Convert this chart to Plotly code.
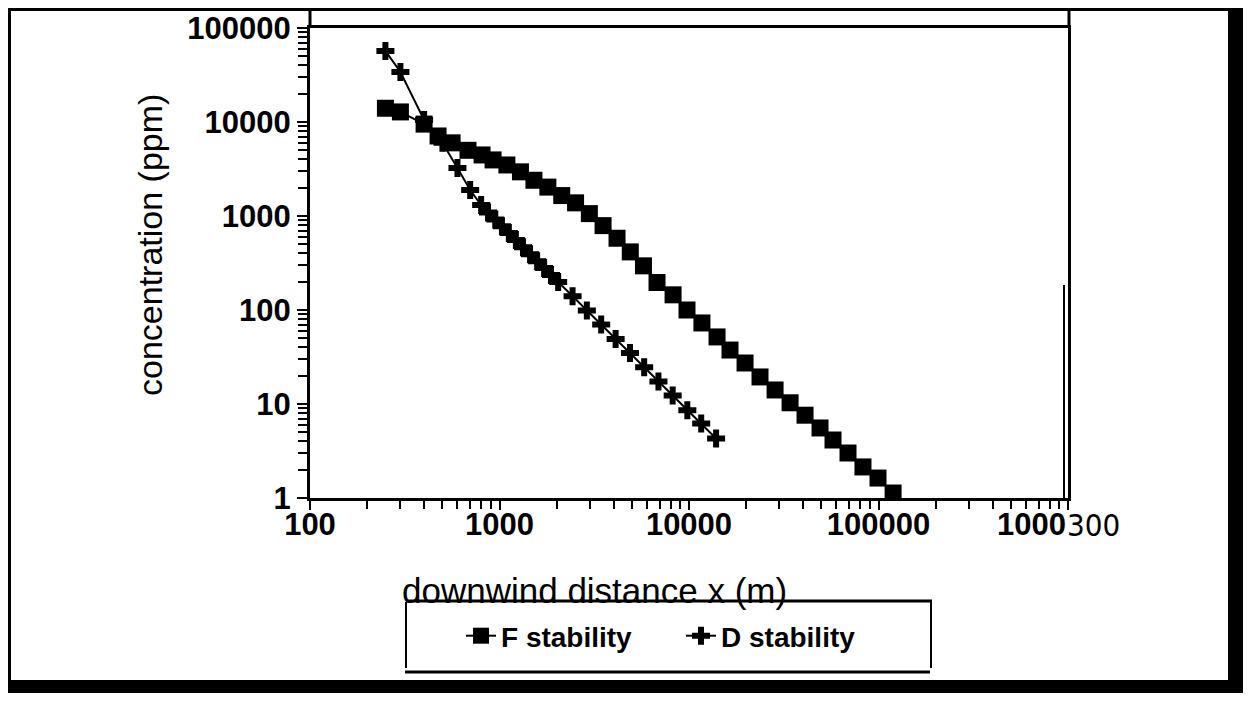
import plotly.graph_objects as go

# ---------------- data ----------------
f_distance = [250, 300, 400, 474, 562, 682, 809, 925,
              1094, 1290, 1520, 1800, 2130, 2520, 2980, 3520, 4170, 4900, 5750, 6780,
              8240, 9760, 11700, 14060, 16460, 19760, 23700, 28460, 34150, 40960,
              49140, 57540, 69040, 82800, 99400, 119400]
f_conc = [14000, 12800, 9500, 7100, 6000, 5000, 4460, 3950,
          3490, 2950, 2400, 2030, 1650, 1380, 1060, 790, 580, 415, 295, 196,
          145, 100, 72.8, 51.7, 37.5, 27.3, 19.4, 14.1, 10.3, 7.6,
          5.56, 4.14, 3.01, 2.14, 1.63, 1.13]

d_distance = [250, 300, 400, 500, 600, 700, 800,
              870, 950, 1030, 1120, 1220, 1330, 1450, 1580, 1720, 1870, 2040,
              2430, 2890, 3440, 4100, 4880, 5800, 6900, 8200, 9800, 11600, 13900]
d_conc = [57000, 34000, 10500, 6000, 3240, 1890, 1310,
          1090, 920, 780, 660, 555, 466, 392, 331, 279, 236, 199,
          140, 99, 70, 49, 34.8, 24.6, 17.4, 12.3, 8.6, 6.2, 4.3]

x_tickvals = [100, 1000, 10000, 100000, 1000000]
x_ticktext = ["100", "1000", "10000", "100000", ""]
y_tickvals = [1, 10, 100, 1000, 10000, 100000]
y_ticktext = ["1", "10", "100", "1000", "10000", "100000"]

series_names = ["F stability", "D stability"]
x_title = "downwind distance x (m)"
y_title = "concentration (ppm)"

# ---------------- layout geometry (screen pixels; page body has an 8px margin) ----------------
PAGE_W, PAGE_H = 1251, 701
OFF = 8
W, H = PAGE_W - 2 * OFF, PAGE_H - 2 * OFF   # fits the page without scrollbars
L, R, T, B = 310, 1068, 28, 498            # plot area on screen
FIG_R, FIG_B = OFF + W, OFF + H            # right / bottom edge of the figure on screen


def px_x(p):
    return (p - L) / (R - L)


def px_y(p):
    return (B - p) / (B - T)


minor_x = [m * 10 ** k for k in range(2, 6) for m in range(2, 10)]
minor_y = [m * 10 ** k for k in range(0, 5) for m in range(2, 10)]

SANS = "Liberation Sans, Arial, sans-serif"
TICK_FONT = dict(family=SANS, size=31, color="black", weight="bold")

fig = go.Figure()
fig.add_trace(go.Scatter(
    x=f_distance, y=f_conc, name=series_names[0], mode="lines+markers",
    line=dict(color="black", width=2),
    marker=dict(symbol="square", size=17, color="black"),
))
fig.add_trace(go.Scatter(
    x=d_distance, y=d_conc, name=series_names[1], mode="lines+markers",
    line=dict(color="black", width=2),
    marker=dict(symbol="cross", size=15, color="black"),
))

axis_common = dict(
    type="log", showgrid=False, zeroline=False,
    showline=True, linecolor="black", linewidth=3, mirror=True,
    ticks="outside", tickwidth=2, tickcolor="black",
    tickfont=TICK_FONT, tickmode="array",
)

fig.update_xaxes(
    **axis_common, range=[2, 6], ticklen=9, ticklabelstandoff=-12,
    tickvals=x_tickvals, ticktext=x_ticktext,
    minor=dict(tickmode="array", tickvals=minor_x, ticks="outside", ticklen=8,
               tickwidth=2, tickcolor="black", showgrid=False),
)
fig.update_yaxes(
    **axis_common, range=[0, 5], ticklen=10,
    tickvals=y_tickvals, ticktext=y_ticktext,
    minor=dict(tickmode="array", tickvals=minor_y, ticks="outside", ticklen=9,
               tickwidth=2, tickcolor="black", showgrid=False),
)

# scanned frame decorations
shapes = []


def hline(y, x0, x1, w=3):
    shapes.append(dict(type="line", xref="paper", yref="paper",
                       x0=px_x(x0), x1=px_x(x1), y0=px_y(y), y1=px_y(y),
                       line=dict(color="black", width=w)))


def vline(x, y0, y1, w=3):
    shapes.append(dict(type="line", xref="paper", yref="paper",
                       x0=px_x(x), x1=px_x(x), y0=px_y(y0), y1=px_y(y1),
                       line=dict(color="black", width=w)))


def rect(x0, y0, x1, y1):
    shapes.append(dict(type="rect", xref="paper", yref="paper",
                       x0=px_x(x0), x1=px_x(x1), y0=px_y(y0), y1=px_y(y1),
                       fillcolor="black", line=dict(width=0)))


hline(9.5, 8, 1228)                # outer top frame
vline(9.5, 8, 682)                 # outer left frame
rect(1228, OFF, FIG_R, FIG_B)      # right black band
rect(OFF, 680, FIG_R, FIG_B)       # bottom black band
vline(L, 8, T)                     # y axis extension to frame
vline(R + 1, 8, T)                 # right border extension
vline(R - 4, 285, B + 2, 2)        # doubled right edge
# legend box
hline(601, 407, 932)
hline(672, 405, 930)
vline(406, 602, 668, 2)
vline(931, 600, 668, 2)

annotations = [
    # last x tick label as printed in the scan
    dict(x=6, y=0, xref="x", yref="paper", text="1000", showarrow=False,
         xanchor="right", yanchor="top", yshift=-7, font=TICK_FONT),
    dict(x=6, y=0, xref="x", yref="paper", text="300", showarrow=False,
         xanchor="left", yanchor="top", yshift=-7, xshift=-3,
         font=dict(family="Liberation Sans Narrow, DejaVu Sans Condensed, sans-serif",
                   size=31, color="black")),
    # axis titles
    dict(x=px_x(594), y=px_y(590), xref="paper", yref="paper", text=x_title,
         showarrow=False, xanchor="center", yanchor="middle",
         font=dict(family=SANS, size=35, color="black")),
    dict(x=px_x(150), y=px_y(245), xref="paper", yref="paper", text=y_title,
         showarrow=False, xanchor="center", yanchor="middle", textangle=-90,
         font=dict(family=SANS, size=34, color="black")),
]

fig.update_layout(
    width=W, height=H,
    margin=dict(l=L - OFF, r=FIG_R - R, t=T - OFF, b=FIG_B - B, autoexpand=False),
    paper_bgcolor="white", plot_bgcolor="white",
    showlegend=True,
    legend=dict(
        orientation="h", x=px_x(461), y=px_y(611), xanchor="left", yanchor="top",
        font=dict(family=SANS, size=28, color="black", weight="bold"),
        bgcolor="rgba(0,0,0,0)", borderwidth=0, entrywidth=175, itemwidth=30,
    ),
    shapes=shapes,
    annotations=annotations,
)

fig.write_html("out.html")
